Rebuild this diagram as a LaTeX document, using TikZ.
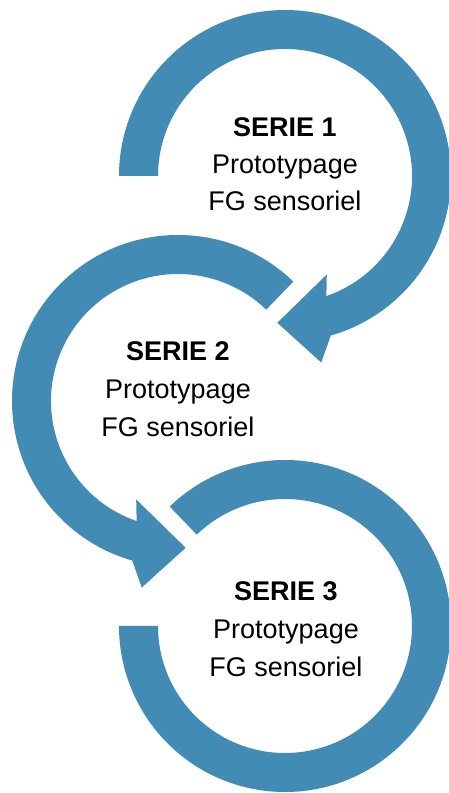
\documentclass[tikz,border=0pt]{standalone}
\usepackage{fontspec}
\setmainfont{Liberation Sans}
\definecolor{arrowblue}{RGB}{66,139,180}
\begin{document}
\begin{tikzpicture}[x=1pt,y=1pt,
  band/.style={fill=arrowblue, draw=none},
  titletext/.style={font=\fontsize{27}{32}\selectfont\bfseries, anchor=base, inner sep=0pt},
  bodytext/.style={font=\fontsize{27}{32}\selectfont, anchor=base, inner sep=0pt}]
\useasboundingbox (0,0) rectangle (449,793);
\coordinate (c1) at (285,617);
\coordinate (c2) at (178,392);
\coordinate (c3) at (285,167);
% circular arrow 1
\fill[band] ([shift={(c1)}]180:166) arc[start angle=180, end angle=-74, radius=166]
  -- ([shift={(c1)}]-79:190) -- ([shift={(c1)}]-93:147) -- ([shift={(c1)}]-67:107)
  -- ([shift={(c1)}]-71:127) arc[start angle=-71, end angle=180, radius=127] -- cycle;
% circular arrow 2
\fill[band] ([shift={(c2)}]46:166) arc[start angle=46, end angle=254, radius=166]
  -- ([shift={(c2)}]259:190) -- ([shift={(c2)}]273:147) -- ([shift={(c2)}]247:107)
  -- ([shift={(c2)}]251:127) arc[start angle=251, end angle=46, radius=127] -- cycle;
% circular band 3
\fill[band] ([shift={(c3)}]134:166) arc[start angle=134, end angle=-180, radius=166]
  -- ([shift={(c3)}]180:127) arc[start angle=-180, end angle=134, radius=127] -- cycle;
% texts
\node[titletext] (t1a) at (285,656) {SERIE 1};
\node[bodytext] (t1b) at (285,619) {Prototypage};
\node[bodytext] (t1c) at (285,582) {FG sensoriel};
\node[titletext] (t2a) at (178,432) {SERIE 2};
\node[bodytext] (t2b) at (178,394) {Prototypage};
\node[bodytext] (t2c) at (178,356) {FG sensoriel};
\node[titletext] (t3a) at (286,192) {SERIE 3};
\node[bodytext] (t3b) at (286,154) {Prototypage};
\node[bodytext] (t3c) at (286,116) {FG sensoriel};
\end{tikzpicture}
\end{document}
